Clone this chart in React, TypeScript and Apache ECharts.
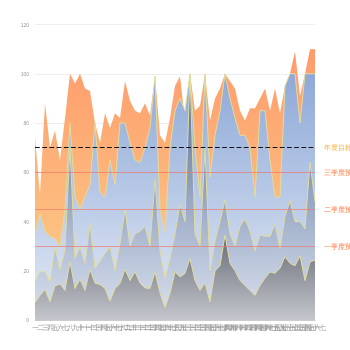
import React, { useEffect, useRef } from "react";
import * as echarts from "echarts";

const categories = [
  "一","二","三","四","五","六","七","八","九","十",
  "十一","十二","十三","十四","十五","十六","十七","十八","十九","二十",
  "二十一","二十二","二十三","二十四","二十五","二十六","二十七","二十八","二十九","三十",
  "三十一","三十二","三十三","三十四","三十五","三十六","三十七","三十八","三十九","四十",
  "四十一","四十二","四十三","四十四","四十五","四十六","四十七","四十八","四十九","五十",
  "五十一","五十二","五十三","五十四","五十五","五十六","五十七",
];

const orangeValues = [
  74, 51, 88, 70, 77, 65, 82, 100, 96, 100,
  94, 93, 80, 72, 84, 78, 84, 82, 97, 89,
  85, 84, 88, 83, 99, 75, 72, 82, 95, 99,
  81, 100, 85, 87, 100, 81, 90, 94, 100, 97,
  94, 85, 81, 86, 86, 90, 94, 85, 94, 84,
  95, 100, 109, 91, 100, 110, 110,
];

const lightBlueValues = [
  35, 43, 36, 34, 33, 30, 45, 80, 50, 45,
  50, 55, 80, 52, 50, 65, 55, 80, 80, 72,
  65, 64, 70, 78, 99, 45, 36, 70, 85, 90,
  85, 100, 70, 50, 100, 58, 75, 85, 100, 90,
  82, 75, 75, 70, 50, 85, 85, 65, 50, 50,
  95, 100, 100, 80, 100, 100, 100,
];

const midBlueValues = [
  15.5, 19.6, 19.6, 15.5, 29.7, 20.3, 28.4, 70, 25, 29.7,
  23, 39, 21, 24, 27, 29.7, 20, 31, 45, 30,
  35, 36, 38, 30, 57, 28, 17, 25, 35, 47,
  40, 100, 35, 30, 70, 20, 32, 40, 49, 35,
  30, 38, 41, 36, 28, 34.5, 34, 34, 39, 29,
  42, 48.6, 40, 40, 37, 64, 48,
];

const grayValues = [
  7, 10, 12.4, 7.4, 13.8, 14.6, 12, 23.6, 12.8, 16.5,
  12, 20.5, 15, 14.4, 12.8, 7.7, 12.8, 14.8, 20.6, 16,
  19.6, 15, 13, 12.8, 19.6, 11, 5.1, 10.8, 19.6, 17.5,
  18.9, 25, 16, 12, 15, 7.4, 20, 22, 34.5, 23,
  20, 16, 14, 12, 10, 14, 17, 19.5, 19, 21,
  25.7, 23, 22, 26, 16, 23.6, 24.3,
];

const targetLines = [
  { name: "年度目标", value: 70 },
  { name: "三季度预警", value: 60 },
  { name: "二季度预警", value: 45 },
  { name: "一季度预警", value: 30 },
];

const yTicks = { min: 0, max: 120, interval: 20 };

function grad(top: string, bottom: string) {
  return new echarts.graphic.LinearGradient(0, 0, 0, 1, [
    { offset: 0, color: top },
    { offset: 1, color: bottom },
  ]);
}

export default function App() {
  const ref = useRef<HTMLDivElement>(null);
  useEffect(() => {
    if (!ref.current) return;
    const chart = echarts.init(ref.current, null, { renderer: "svg" });
    const lineBorder = { color: "#e2dc9c", width: 1 };
    const markLineData = targetLines.map((t, i) => ({
      name: t.name,
      yAxis: t.value,
      lineStyle:
        i === 0
          ? { color: "#111", type: "dashed", width: 1.2 }
          : { color: "rgba(240,120,110,0.7)", type: "solid", width: 1 },
      label: {
        show: true,
        position: "end",
        formatter: t.name,
        color: i === 0 ? "#f7b04a" : "#ff7a45",
        fontSize: 6.5,
        distance: 9,
      },
    }));
    chart.setOption({
      animation: false,
      grid: { left: 35, right: 35, top: 24.5, bottom: 30 },
      xAxis: {
        type: "category",
        data: categories,
        boundaryGap: false,
        axisLine: { lineStyle: { color: "#ccc" } },
        axisTick: { show: false },
        axisLabel: { interval: 0, fontSize: 7, color: "#999", margin: 4 },
      },
      yAxis: {
        type: "value",
        min: yTicks.min,
        max: yTicks.max,
        interval: yTicks.interval,
        axisLine: { show: false },
        axisTick: { show: false },
        axisLabel: { fontSize: 5, color: "#999", margin: 6 },
        splitLine: { lineStyle: { color: "#eee" } },
      },
      series: [
        {
          type: "line",
          data: orangeValues,
          showSymbol: false,
          lineStyle: { width: 0 },
          areaStyle: { color: grad("#ff9a6c", "#fad38a"), opacity: 1 },
          markLine: {
            symbol: "none",
            silent: true,
            data: markLineData,
          },
        },
        {
          type: "line",
          data: lightBlueValues,
          showSymbol: false,
          lineStyle: lineBorder,
          areaStyle: { color: grad("#8ea9d8", "#e4eaf5"), opacity: 1 },
        },
        {
          type: "line",
          data: midBlueValues,
          showSymbol: false,
          lineStyle: lineBorder,
          areaStyle: { color: grad("#4f6896", "#dce3f0"), opacity: 1 },
        },
        {
          type: "line",
          data: grayValues,
          showSymbol: false,
          lineStyle: lineBorder,
          areaStyle: { color: grad("#666b76", "#c4c6cc"), opacity: 1 },
        },
      ],
    });
    return () => chart.dispose();
  }, []);
  return (
    <div
      ref={ref}
      style={{ position: "fixed", left: 0, top: 0, width: 350, height: 350 }}
    />
  );
}
